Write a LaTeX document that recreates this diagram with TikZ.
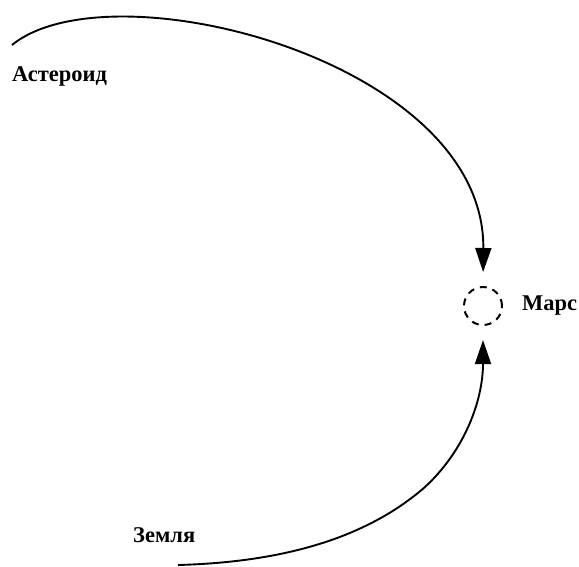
\documentclass[tikz,border=0pt]{standalone}
\usepackage{fontspec}
\setmainfont{Liberation Serif}
\usetikzlibrary{arrows.meta, positioning}
\tikzset{
  orbit/.style  = {line width=1.9pt, -{Triangle[length=24pt, width=16pt]}},
  planet/.style = {circle, draw, line width=2pt, dash pattern=on 7pt off 6pt,
                   minimum size=38pt, inner sep=0pt},
  label/.style  = {font=\bfseries\fontsize{22.5}{26}\selectfont, inner sep=0pt, anchor=west},
}
\begin{document}
\begin{tikzpicture}[x=1pt, y=-1pt]
\useasboundingbox (0,0) rectangle (579,566);

% Mars
\node[planet] (mars) at (483,306) {};
\node[label, right=19pt of mars] (marsname) {Марс};

% start points
\coordinate (ast) at (12,45);
\coordinate (earth) at (178,565);
\node[label] (astname) at (12,76) {Астероид};
\node[label] (earthname) at (133,535) {Земля};

% paths
\draw[orbit, shorten >=14pt] (ast) .. controls (110,-35) and (485,60) .. (mars.north);
\draw[orbit] (earth) .. controls (290,562) and (370,535) .. (425,487)
      .. controls (465,450) and (483,400) .. ([yshift=-14pt]mars.south);

\end{tikzpicture}
\end{document}
